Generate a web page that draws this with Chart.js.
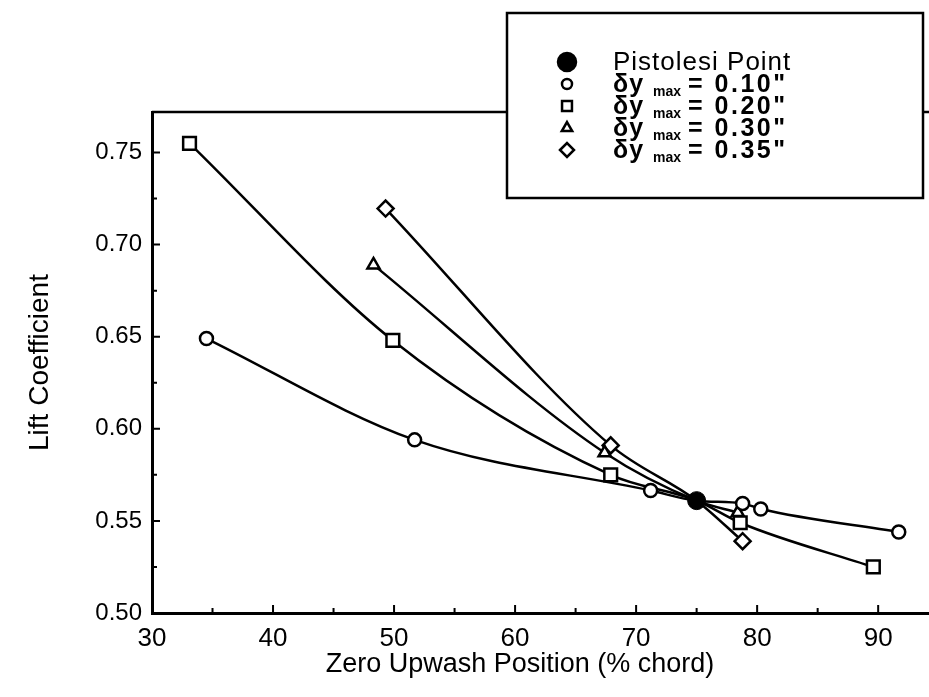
<!DOCTYPE html>
<html lang="en">
<head>
<meta charset="UTF-8">
<title>Lift Coefficient vs Zero Upwash Position</title>
<script src="https://cdn.jsdelivr.net/npm/chart.js@4.4.1/dist/chart.umd.min.js"></script>
<style>
  html, body { margin: 0; padding: 0; background: #fff; }
  #wrap { width: 929px; height: 697px; }
</style>
</head>
<body>
<div id="wrap"><canvas id="myChart"></canvas></div>
<script>
// values
const pistolesi = { x: 75.0, y: 0.561 };

const dy010x = [34.5, 51.7, 71.2, 78.8, 80.3, 91.7];
const dy010y = [0.649, 0.594, 0.5665, 0.5595, 0.5565, 0.544];

const dy020x = [33.1, 49.9, 67.9, 78.6, 89.6];
const dy020y = [0.755, 0.648, 0.575, 0.549, 0.525];

const dy030x = [48.3, 67.4, 78.4];
const dy030y = [0.689, 0.587, 0.5545];

const dy035x = [49.3, 67.9, 78.8];
const dy035y = [0.7196, 0.591, 0.539];

const xTicks = [30, 40, 50, 60, 70, 80, 90];
const yTicks = [0.50, 0.55, 0.60, 0.65, 0.70, 0.75];

const legendLabels = ['Pistolesi Point', '0.10"', '0.20"', '0.30"', '0.35"'];

const FONT = "'Liberation Sans', Arial, sans-serif";

// every curve runs through the Pistolesi point, no marker drawn there
function curve(xs, ys) {
  const pts = xs.map((x, i) => ({ x: x, y: ys[i], m: true }));
  pts.push({ x: pistolesi.x, y: pistolesi.y, m: false });
  pts.sort((a, b) => a.x - b.x);
  return pts;
}

function series(xs, ys, style, r) {
  const pts = curve(xs, ys);
  return {
    data: pts.map(p => ({ x: p.x, y: p.y })),
    pointRadius: pts.map(p => p.m ? r : 0),
    pointStyle: style,
    borderColor: '#000',
    backgroundColor: '#fff',
    pointBackgroundColor: '#fff',
    pointBorderColor: '#000',
    pointBorderWidth: 2.5,
    borderWidth: 2.5,
    cubicInterpolationMode: 'monotone',
    showLine: true,
    order: 2
  };
}

const frameAndLegend = {
  id: 'frameAndLegend',
  afterDraw(chart) {
    const ctx = chart.ctx;
    const a = chart.chartArea;
    const xs = chart.scales.x, ys = chart.scales.y;
    ctx.save();
    ctx.strokeStyle = '#000';
    ctx.fillStyle = '#000';

    // inward tick marks
    ctx.lineWidth = 2;
    ctx.beginPath();
    for (let v = 30; v <= 94; v += 5) {
      const px = xs.getPixelForValue(v);
      const len = (v % 10 === 0) ? 8 : 5;
      ctx.moveTo(px, a.bottom); ctx.lineTo(px, a.bottom - len);
    }
    for (let k = 0; k <= 10; k++) {
      const v = 0.5 + k * 0.025;
      const py = ys.getPixelForValue(v);
      const len = (k % 2 === 0) ? 8 : 5;
      ctx.moveTo(a.left, py); ctx.lineTo(a.left + len, py);
    }
    ctx.stroke();

    // top frame line
    ctx.lineWidth = 2.5;
    ctx.beginPath();
    ctx.moveTo(a.left, a.top); ctx.lineTo(chart.width, a.top);
    ctx.stroke();

    // x axis title
    ctx.textAlign = 'center';
    ctx.textBaseline = 'middle';
    ctx.font = '27px ' + FONT;
    ctx.fillText('Zero Upwash Position (% chord)', 520, 665);

    // legend box
    const bx = 507, by = 13, bw = 416, bh = 185;
    ctx.fillStyle = '#fff';
    ctx.fillRect(bx, by, bw, bh);
    ctx.lineWidth = 2.5;
    ctx.strokeRect(bx, by, bw, bh);

    const mx = 567, tx = 613;
    const rows = [63, 85, 107, 129, 151];
    const styles = ['circle', 'circle', 'rect', 'triangle', 'rectRot'];
    const radii = [9, 5, 7, 6, 7];
    for (let i = 0; i < rows.length; i++) {
      ctx.fillStyle = i === 0 ? '#000' : '#fff';
      ctx.strokeStyle = '#000';
      ctx.lineWidth = 2.5;
      Chart.helpers.drawPoint(ctx, { pointStyle: styles[i], radius: radii[i], borderWidth: 2.5 }, mx, rows[i] - 1);
    }

    ctx.fillStyle = '#000';
    ctx.textBaseline = 'middle';
    ctx.textAlign = 'left';
    ctx.letterSpacing = '1px';
    ctx.font = '26px ' + FONT;
    ctx.fillText(legendLabels[0], tx, rows[0]);
    for (let i = 1; i < rows.length; i++) {
      ctx.letterSpacing = '1px';
      ctx.font = 'bold 25px ' + FONT;
      ctx.fillText('\u03b4y', tx, rows[i]);
      ctx.letterSpacing = '0px';
      ctx.font = 'bold 14px ' + FONT;
      ctx.fillText('max', 653, rows[i] + 7);
      ctx.letterSpacing = '2.5px';
      ctx.font = 'bold 25px ' + FONT;
      ctx.fillText('= ' + legendLabels[i], 688, rows[i]);
    }
    ctx.restore();
  }
};

const ctx = document.getElementById('myChart').getContext('2d');
const myChart = new Chart(ctx, {
  type: 'scatter',
  data: {
    datasets: [
      series(dy010x, dy010y, 'circle', 6.5),
      series(dy020x, dy020y, 'rect', 9),
      series(dy030x, dy030y, 'triangle', 7),
      series(dy035x, dy035y, 'rectRot', 8),
      {
        data: [pistolesi],
        pointStyle: 'circle',
        pointRadius: 9,
        pointBackgroundColor: '#000',
        pointBorderColor: '#000',
        showLine: false,
        order: 1
      }
    ]
  },
  options: {
    responsive: true,
    maintainAspectRatio: false,
    animation: false,
    layout: { autoPadding: false, padding: { top: 112, right: 0, left: 0, bottom: 0 } },
    plugins: { legend: { display: false }, tooltip: { enabled: false } },
    scales: {
      x: {
        type: 'linear',
        min: 30,
        max: 94.2,
        afterFit: s => { s.height = 84; s.paddingLeft = 0; s.paddingRight = 0; },
        afterBuildTicks: s => { s.ticks = xTicks.map(v => ({ value: v })); },
        grid: { display: false },
        border: { display: true, color: '#000', width: 3 },
        ticks: { color: '#000', padding: 2, maxRotation: 0, font: { family: FONT, size: 26 } },
        title: { display: false }
      },
      y: {
        type: 'linear',
        min: 0.5,
        max: 0.772,
        afterFit: s => { s.width = 152; },
        afterBuildTicks: s => { s.ticks = yTicks.map(v => ({ value: v })); },
        grid: { display: false },
        border: { display: true, color: '#000', width: 3 },
        ticks: {
          color: '#000', padding: 2,
          font: { family: FONT, size: 24 },
          callback: v => v.toFixed(2)
        },
        title: {
          display: true,
          text: 'Lift Coefficient',
          color: '#000',
          font: { family: FONT, size: 28 },
          padding: { top: 23, bottom: 0 }
        }
      }
    }
  },
  plugins: [frameAndLegend]
});
</script>
</body>
</html>
